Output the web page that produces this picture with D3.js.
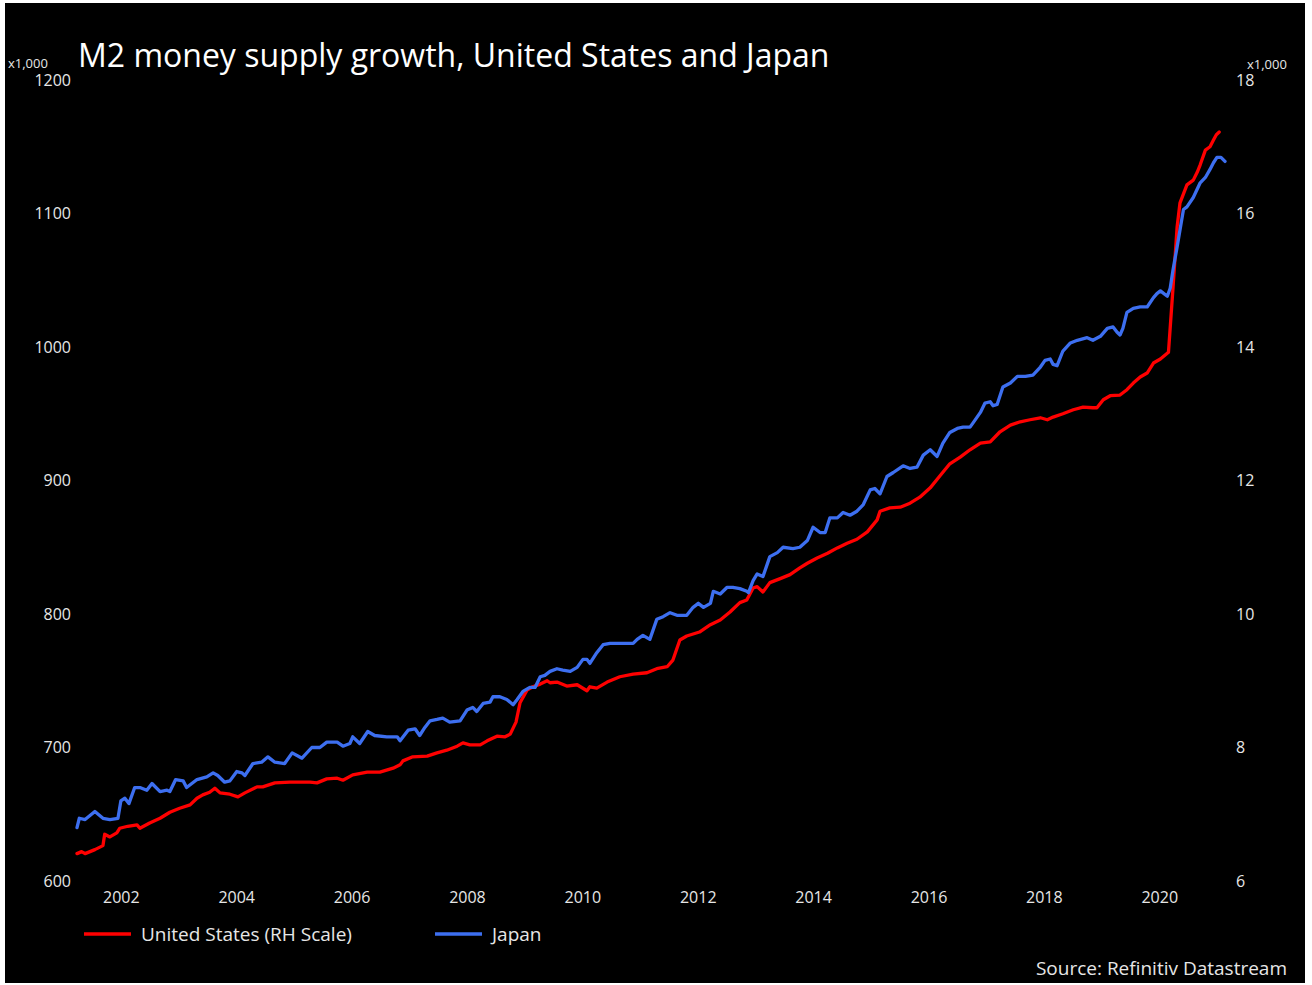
<!DOCTYPE html>
<html>
<head>
    <meta charset="utf-8">
    <title>M2 money supply growth</title>
    <script src="https://d3js.org/d3.v7.min.js"></script>
    <style>
        body { margin: 0; padding: 0; background: #fff; }
        text { font-family: "Open Sans", sans-serif; }
        .tick text { fill: #e6e6e6; font-size: 16px; }
    </style>
</head>
<body>
<svg id="svg" width="1312" height="985"></svg>
<script>
    // Japan M2 (left scale, x1,000), decimal years
    const japanYears = [2001.24, 2001.28, 2001.38, 2001.55, 2001.69, 2001.81, 2001.95, 2002.00, 2002.07, 2002.14,
        2002.24, 2002.33, 2002.45, 2002.54, 2002.68, 2002.80, 2002.85, 2002.95, 2003.08, 2003.14,
        2003.32, 2003.49, 2003.60, 2003.68, 2003.80, 2003.89, 2004.01, 2004.10, 2004.15, 2004.29,
        2004.44, 2004.55, 2004.67, 2004.84, 2004.97, 2005.14, 2005.31, 2005.45, 2005.57, 2005.75,
        2005.85, 2005.97, 2006.02, 2006.14, 2006.28, 2006.40, 2006.61, 2006.79, 2006.84, 2006.98,
        2007.10, 2007.18, 2007.27, 2007.36, 2007.48, 2007.58, 2007.70, 2007.88, 2008.00, 2008.10,
        2008.17, 2008.28, 2008.40, 2008.45, 2008.57, 2008.69, 2008.80, 2008.87, 2008.97, 2009.09,
        2009.18, 2009.27, 2009.35, 2009.44, 2009.56, 2009.66, 2009.79, 2009.91, 2010.01, 2010.08,
        2010.13, 2010.25, 2010.36, 2010.48, 2010.65, 2010.88, 2010.95, 2011.05, 2011.17, 2011.29,
        2011.40, 2011.52, 2011.64, 2011.81, 2011.92, 2012.01, 2012.10, 2012.22, 2012.27, 2012.39,
        2012.51, 2012.61, 2012.73, 2012.85, 2012.88, 2012.96, 2013.03, 2013.13, 2013.25, 2013.38,
        2013.48, 2013.65, 2013.77, 2013.90, 2014.00, 2014.12, 2014.21, 2014.29, 2014.42, 2014.52,
        2014.64, 2014.76, 2014.87, 2014.99, 2015.07, 2015.16, 2015.28, 2015.39, 2015.56, 2015.68,
        2015.80, 2015.91, 2016.03, 2016.15, 2016.25, 2016.37, 2016.50, 2016.60, 2016.72, 2016.77,
        2016.90, 2016.98, 2017.07, 2017.12, 2017.19, 2017.29, 2017.42, 2017.54, 2017.68, 2017.81,
        2017.94, 2018.02, 2018.11, 2018.16, 2018.23, 2018.33, 2018.46, 2018.58, 2018.75, 2018.85,
        2018.98, 2019.10, 2019.20, 2019.27, 2019.32, 2019.37, 2019.44, 2019.55, 2019.67, 2019.79,
        2019.90, 2019.96, 2020.02, 2020.14, 2020.19, 2020.24, 2020.31, 2020.42, 2020.48, 2020.59,
        2020.71, 2020.80, 2020.88, 2020.94, 2021.00, 2021.07, 2021.14];
    const japanValues = [640, 647, 646, 652, 647, 646, 647, 660, 662, 658,
        670, 670, 668, 673, 667, 668, 667, 676, 675, 670,
        676, 678, 681, 679, 674, 675, 682, 681, 679, 688,
        689, 693, 689, 688, 696, 692, 700, 700, 704, 704,
        701, 703, 708, 703, 712, 709, 708, 708, 705, 713,
        714, 709, 715, 720, 721, 722, 719, 720, 728, 730,
        727, 733, 734, 738, 738, 736, 732, 736, 742, 745,
        745, 753, 754, 757, 759, 758, 757, 760, 766, 766,
        763, 771, 777, 778, 778, 778, 781, 784, 781, 796,
        798, 801, 799, 799, 805, 808, 805, 808, 817, 815,
        820, 820, 819, 817, 816, 825, 830, 828, 843, 846,
        850, 849, 850, 855, 865, 861, 861, 872, 872, 876,
        874, 877, 882, 893, 894, 890, 903, 906, 911, 909,
        910, 919, 923, 918, 928, 936, 939, 940, 940, 943,
        951, 958, 959, 956, 957, 970, 973, 978, 978, 979,
        985, 990, 991, 987, 986, 997, 1003, 1005, 1007, 1005,
        1008, 1014, 1015, 1011, 1009, 1014, 1026, 1029, 1030, 1030,
        1037, 1040, 1042, 1038, 1044, 1058, 1075, 1103, 1105, 1112,
        1123, 1127, 1133, 1138, 1142, 1142, 1139];

    // United States M2 (right scale, x1,000)
    const usYears = [2001.24, 2001.32, 2001.38, 2001.55, 2001.69, 2001.72, 2001.81, 2001.93, 2001.98, 2002.12,
        2002.28, 2002.33, 2002.50, 2002.68, 2002.85, 2003.02, 2003.20, 2003.32, 2003.42, 2003.54,
        2003.63, 2003.72, 2003.89, 2004.03, 2004.15, 2004.36, 2004.46, 2004.67, 2004.93, 2005.10,
        2005.28, 2005.40, 2005.57, 2005.75, 2005.85, 2006.02, 2006.27, 2006.49, 2006.72, 2006.84,
        2006.89, 2007.06, 2007.31, 2007.48, 2007.65, 2007.83, 2007.93, 2008.05, 2008.23, 2008.35,
        2008.52, 2008.66, 2008.75, 2008.85, 2008.92, 2009.04, 2009.14, 2009.27, 2009.39, 2009.44,
        2009.56, 2009.73, 2009.91, 2010.08, 2010.13, 2010.25, 2010.43, 2010.65, 2010.88, 2011.12,
        2011.29, 2011.47, 2011.57, 2011.69, 2011.81, 2012.03, 2012.22, 2012.39, 2012.56, 2012.73,
        2012.85, 2012.96, 2013.03, 2013.13, 2013.25, 2013.43, 2013.60, 2013.77, 2013.90, 2014.07,
        2014.25, 2014.42, 2014.59, 2014.76, 2014.94, 2015.11, 2015.16, 2015.33, 2015.51, 2015.68,
        2015.85, 2016.03, 2016.20, 2016.37, 2016.55, 2016.72, 2016.90, 2017.07, 2017.24, 2017.42,
        2017.59, 2017.76, 2017.94, 2018.06, 2018.16, 2018.33, 2018.51, 2018.68, 2018.85, 2018.92,
        2019.03, 2019.15, 2019.32, 2019.44, 2019.55, 2019.67, 2019.79, 2019.90, 2020.02, 2020.16,
        2020.24, 2020.31, 2020.36, 2020.48, 2020.59, 2020.66, 2020.71, 2020.80, 2020.88, 2020.94,
        2020.99, 2021.04];
    const usValues = [6.41, 6.44, 6.41, 6.47, 6.53, 6.70, 6.66, 6.72, 6.79, 6.82,
        6.84, 6.79, 6.87, 6.94, 7.03, 7.09, 7.14, 7.24, 7.29, 7.33,
        7.39, 7.32, 7.30, 7.26, 7.32, 7.41, 7.41, 7.47, 7.48, 7.48,
        7.48, 7.47, 7.53, 7.54, 7.51, 7.59, 7.63, 7.63, 7.69, 7.74,
        7.80, 7.86, 7.87, 7.92, 7.96, 8.02, 8.07, 8.04, 8.04, 8.10,
        8.17, 8.16, 8.20, 8.38, 8.67, 8.86, 8.91, 8.95, 9.00, 8.97,
        8.98, 8.92, 8.94, 8.85, 8.91, 8.89, 8.98, 9.06, 9.10, 9.12,
        9.18, 9.21, 9.31, 9.61, 9.67, 9.73, 9.84, 9.91, 10.03, 10.17,
        10.21, 10.39, 10.41, 10.33, 10.47, 10.53, 10.59, 10.69, 10.76, 10.84,
        10.91, 10.99, 11.06, 11.12, 11.23, 11.41, 11.54, 11.59, 11.60, 11.66,
        11.75, 11.89, 12.07, 12.25, 12.35, 12.46, 12.56, 12.58, 12.73, 12.83,
        12.88, 12.91, 12.94, 12.91, 12.95, 13.00, 13.06, 13.10, 13.09, 13.09,
        13.21, 13.27, 13.28, 13.36, 13.46, 13.55, 13.61, 13.76, 13.82, 13.92,
        14.90, 15.80, 16.16, 16.43, 16.50, 16.62, 16.73, 16.95, 17.00, 17.10,
        17.18, 17.22];

    const xTicks = [2002, 2004, 2006, 2008, 2010, 2012, 2014, 2016, 2018, 2020];
    const leftTicks = [600, 700, 800, 900, 1000, 1100, 1200];
    const rightTicks = [6, 8, 10, 12, 14, 16, 18];

    const japan = japanYears.map((t, i) => ({ t: t, v: japanValues[i] }));
    const us = usYears.map((t, i) => ({ t: t, v: usValues[i] }));

    const svg = d3.select("#svg");

    // Black panel
    svg.append("rect")
        .attr("x", 5).attr("y", 3)
        .attr("width", 1300).attr("height", 980)
        .attr("fill", "#000");

    const x = d3.scaleLinear()
        .domain(d3.extent(japanYears.concat(usYears)))
        .range([77, 1225]);
    const yLeft = d3.scaleLinear().domain([600, 1200]).range([881, 80]);
    const yRight = d3.scaleLinear().domain([6, 18]).range([881, 80]);

    // Axes (labels only)
    const gl = svg.append("g")
        .attr("transform", "translate(71,0)")
        .call(d3.axisLeft(yLeft).tickValues(leftTicks).tickSize(0).tickPadding(0).tickFormat(d3.format("d")));
    const gr = svg.append("g")
        .attr("transform", "translate(1236,0)")
        .call(d3.axisRight(yRight).tickValues(rightTicks).tickSize(0).tickPadding(0));
    const gb = svg.append("g")
        .attr("transform", "translate(0,886)")
        .call(d3.axisBottom(x).tickValues(xTicks).tickSize(0).tickPadding(6).tickFormat(d3.format("d")));
    [gl, gr, gb].forEach(g => {
        g.select(".domain").remove();
        g.attr("font-family", null).attr("font-size", null);
    });

    // Unit labels
    svg.append("text").attr("x", 8).attr("y", 68)
        .attr("fill", "#e6e6e6").attr("font-size", 13).text("x1,000");
    svg.append("text").attr("x", 1247).attr("y", 69)
        .attr("fill", "#e6e6e6").attr("font-size", 13).text("x1,000");

    // Title
    svg.append("text").attr("x", 78).attr("y", 67)
        .attr("fill", "#fff").attr("font-size", 32)
        .text("M2 money supply growth, United States and Japan");

    // Lines
    const line = yScale => d3.line().x(d => x(d.t)).y(d => yScale(d.v));
    svg.append("path").datum(us)
        .attr("fill", "none").attr("stroke", "#ff0000").attr("stroke-width", 3.3)
        .attr("stroke-linejoin", "round").attr("stroke-linecap", "round")
        .attr("d", line(yRight));
    svg.append("path").datum(japan)
        .attr("fill", "none").attr("stroke", "#3d6ff0").attr("stroke-width", 3.3)
        .attr("stroke-linejoin", "round").attr("stroke-linecap", "round")
        .attr("d", line(yLeft));

    // Legend
    const legend = [
        { label: "United States (RH Scale)", color: "#ff0000", x: 84 },
        { label: "Japan", color: "#3d6ff0", x: 435 }
    ];
    legend.forEach(l => {
        svg.append("line").attr("x1", l.x).attr("x2", l.x + 47)
            .attr("y1", 934).attr("y2", 934)
            .attr("stroke", l.color).attr("stroke-width", 3.3);
        svg.append("text").attr("x", l.x + 57).attr("y", 941)
            .attr("fill", "#e6e6e6").attr("font-size", 19).text(l.label);
    });

    // Source
    svg.append("text").attr("x", 1287).attr("y", 975)
        .attr("text-anchor", "end")
        .attr("fill", "#e6e6e6").attr("font-size", 19)
        .text("Source: Refinitiv Datastream");
</script>
</body>
</html>
